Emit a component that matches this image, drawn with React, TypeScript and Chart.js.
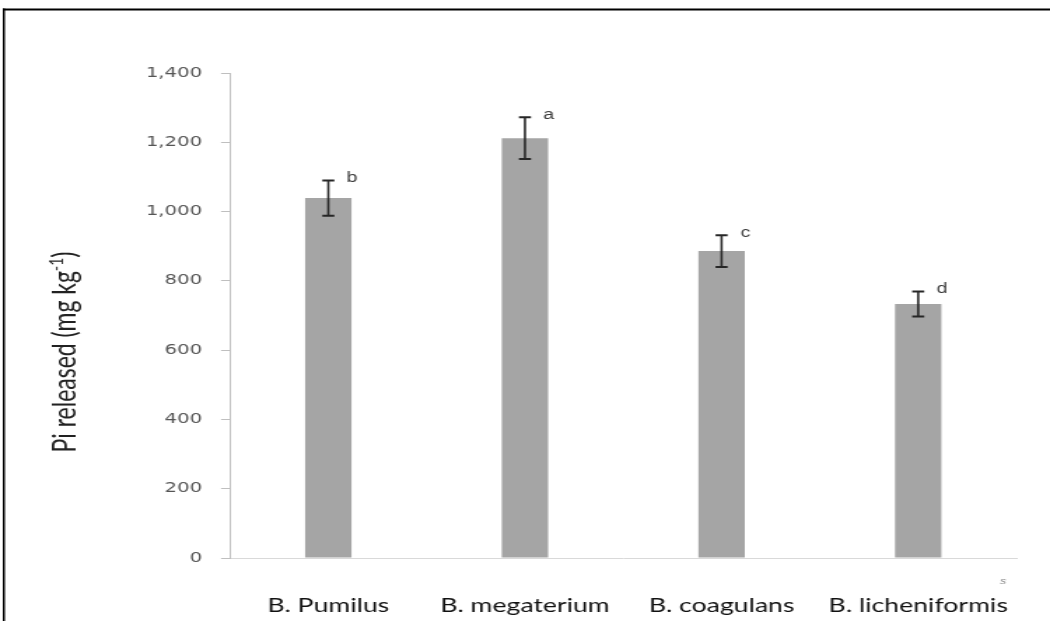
import React, { useEffect, useRef } from 'react';
import { Chart, registerables } from 'chart.js';

Chart.register(...registerables);

// ---- data ----
const categories = ['B. Pumilus', 'B. megaterium', 'B. coagulans', 'B. licheniformis'];
const piReleased = [1039, 1212, 886, 733];
const stdErrors = [51, 60, 46, 36];
const groupLetters = ['b', 'a', 'c', 'd'];
const yTickValues = [0, 200, 400, 600, 800, 1000, 1200, 1400];
const yTitle = 'Pi released (mg kg';
const yTitleSup = '-1';
const yTitleEnd = ')';

// ---- layout (the reference picture is stretched horizontally) ----
const SX = 1.4;
const W = 1050;
const H = 621;
const CW = W / SX;

export default function App() {
  const ref = useRef<HTMLCanvasElement | null>(null);

  useEffect(() => {
    const canvas = ref.current;
    if (!canvas) return;

    const overlay = {
      id: 'overlay',
      afterDatasetsDraw(chart: any) {
        const ctx = chart.ctx;
        const xs = chart.scales.x;
        const ys = chart.scales.y;
        ctx.save();
        ctx.strokeStyle = '#262626';
        for (let i = 0; i < piReleased.length; i++) {
          const x = xs.getPixelForValue(i);
          const yT = ys.getPixelForValue(piReleased[i] + stdErrors[i]);
          const yB = ys.getPixelForValue(piReleased[i] - stdErrors[i]);
          const half = 4.3;
          ctx.lineWidth = 1.6;
          ctx.beginPath();
          ctx.moveTo(x, yT);
          ctx.lineTo(x, yB);
          ctx.stroke();
          ctx.lineWidth = 2;
          ctx.beginPath();
          ctx.moveTo(x - half, yT);
          ctx.lineTo(x + half, yT);
          ctx.moveTo(x - half, yB);
          ctx.lineTo(x + half, yB);
          ctx.stroke();
          // significance letter
          ctx.font = '14px "Liberation Sans"';
          ctx.fillStyle = '#3a3a3a';
          ctx.textAlign = 'center';
          ctx.textBaseline = 'middle';
          ctx.fillText(groupLetters[i], x + 17, yT - 2);
        }
        ctx.restore();
      },
      afterDraw(chart: any) {
        const ctx = chart.ctx;
        ctx.save();
        // frame (top and left)
        ctx.fillStyle = '#000';
        ctx.fillRect(2.0, 8.5, CW, 2);
        ctx.fillRect(2.0, 8.5, 1.5, H);

        // y title, rotated, with superscript
        ctx.translate(47, 352);
        ctx.rotate(-Math.PI / 2);
        ctx.fillStyle = '#222';
        ctx.textBaseline = 'middle';
        ctx.textAlign = 'left';
        const mainFont = '23px Lato';
        const supFont = '14px Lato';
        ctx.font = mainFont;
        const w1 = ctx.measureText(yTitle).width;
        const w3 = ctx.measureText(yTitleEnd).width;
        ctx.font = supFont;
        const w2 = ctx.measureText(yTitleSup).width;
        const total = w1 + w2 + w3;
        let px = -total / 2;
        ctx.font = mainFont;
        ctx.fillText(yTitle, px, 0);
        px += w1;
        ctx.font = supFont;
        ctx.fillText(yTitleSup, px, -7);
        px += w2;
        ctx.font = mainFont;
        ctx.fillText(yTitleEnd, px, 0);
        ctx.restore();

        // small stray mark near the axis end
        ctx.save();
        ctx.font = 'italic 9px "Liberation Sans"';
        ctx.fillStyle = '#8a8a8a';
        ctx.textAlign = 'center';
        ctx.textBaseline = 'middle';
        ctx.fillText('s', 1003 / SX, 581);
        ctx.restore();
      },
    };

    const chart = new Chart(canvas, {
      type: 'bar',
      data: {
        labels: categories,
        datasets: [
          {
            data: piReleased,
            backgroundColor: '#a5a5a5',
            borderWidth: 0,
            barPercentage: 0.236,
            categoryPercentage: 1,
          },
        ],
      },
      options: {
        responsive: false,
        animation: false,
        devicePixelRatio: 1,
        layout: { padding: { top: 73, right: CW - 1026 / SX, left: 0, bottom: 0 } },
        plugins: {
          legend: { display: false },
          tooltip: { enabled: false },
          title: { display: false },
        },
        scales: {
          x: {
            grid: { display: false },
            border: { display: true, color: '#d9d9d9', width: 1 },
            ticks: {
              color: '#111',
              font: { family: 'Lato', size: 19 },
              padding: 28,
              maxRotation: 0,
              autoSkip: false,
            },
            afterFit: (s: any) => {
              s.height = 63;
            },
          },
          y: {
            min: 0,
            max: 1400,
            afterBuildTicks: (s: any) => {
              s.ticks = yTickValues.map((v) => ({ value: v }));
            },
            ticks: {
              color: '#555',
              font: { family: 'DejaVu Sans', size: 14 },
              padding: 13.6,
              callback: (v: any) => Number(v).toLocaleString('en-US'),
            },
            grid: {
              display: true,
              drawOnChartArea: false,
              drawTicks: true,
              tickLength: 6.4,
              color: '#bfbfbf',
            },
            border: { display: true, color: '#bfbfbf' },
            afterFit: (s: any) => {
              s.width = 230 / SX;
            },
          },
        },
      },
      plugins: [overlay],
    } as any);

    return () => chart.destroy();
  }, []);

  return (
    <div style={{ position: 'fixed', left: 0, top: 0, width: W, height: H, background: '#fff' }}>
      <canvas
        ref={ref}
        width={CW}
        height={H}
        style={{ width: W + 'px', height: H + 'px', display: 'block' }}
      />
    </div>
  );
}
